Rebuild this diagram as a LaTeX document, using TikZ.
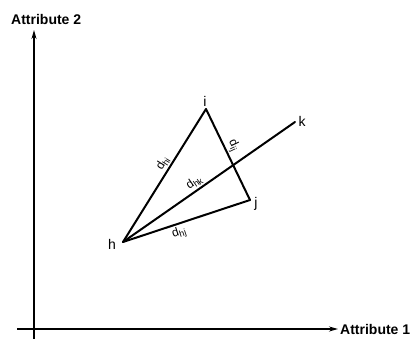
\documentclass[tikz,border=0pt]{standalone}
\usepackage{fontspec}
\setmainfont{Liberation Sans}
\usetikzlibrary{arrows.meta}
\newcommand{\dlab}[1]{d\raisebox{-0.35ex}{\fontsize{9}{10}\selectfont #1}}
\begin{document}
\begin{tikzpicture}[x=1pt,y=-1pt,
  edge/.style={line width=2pt, line cap=round},
  axis/.style={line width=1.4pt, -{Stealth[length=9pt,width=5pt]}},
  axlab/.style={font=\bfseries\fontsize{14}{16}\selectfont, inner sep=0pt},
  ptlab/.style={font=\fontsize{14}{16}\selectfont, inner sep=0pt},
  dist/.style={font=\fontsize{12}{14}\selectfont, inner sep=1.5pt, sloped}]
\useasboundingbox (0,0) rectangle (415,339);
% axes
\coordinate (ybot) at (34,339);
\coordinate (ytop) at (34,30);
\coordinate (xleft) at (17,329);
\coordinate (xright) at (338,329);
\draw[axis] (ybot) -- (ytop);
\draw[axis] (xleft) -- (xright);
\node[axlab, anchor=west] (a2) at (11,19) {Attribute 2};
\node[axlab, anchor=west] (a1) at (340,329) {Attribute 1};
% points
\coordinate (h) at (123,242);
\coordinate (i) at (206,109);
\coordinate (j) at (250,200);
\coordinate (k) at (295,122);
\node[ptlab] (lh) at (112,244) {h};
\node[ptlab] (li) at (205,101) {i};
\node[ptlab] (lj) at (256,204) {j};
\node[ptlab] (lk) at (302,121) {k};
% edges
\draw[edge] (h) -- node[dist, pos=0.56, above] (dhi) {\dlab{hi}} (i);
\draw[edge] (i) -- node[dist, pos=0.44, above] (dij) {\dlab{ij}} (j);
\draw[edge] (j) -- node[dist, pos=0.58, below] (dhj) {\dlab{hj}} (h);
\draw[edge] (h) -- node[dist, pos=0.44, above] (dhk) {\dlab{hk}} (k);
\end{tikzpicture}
\end{document}
